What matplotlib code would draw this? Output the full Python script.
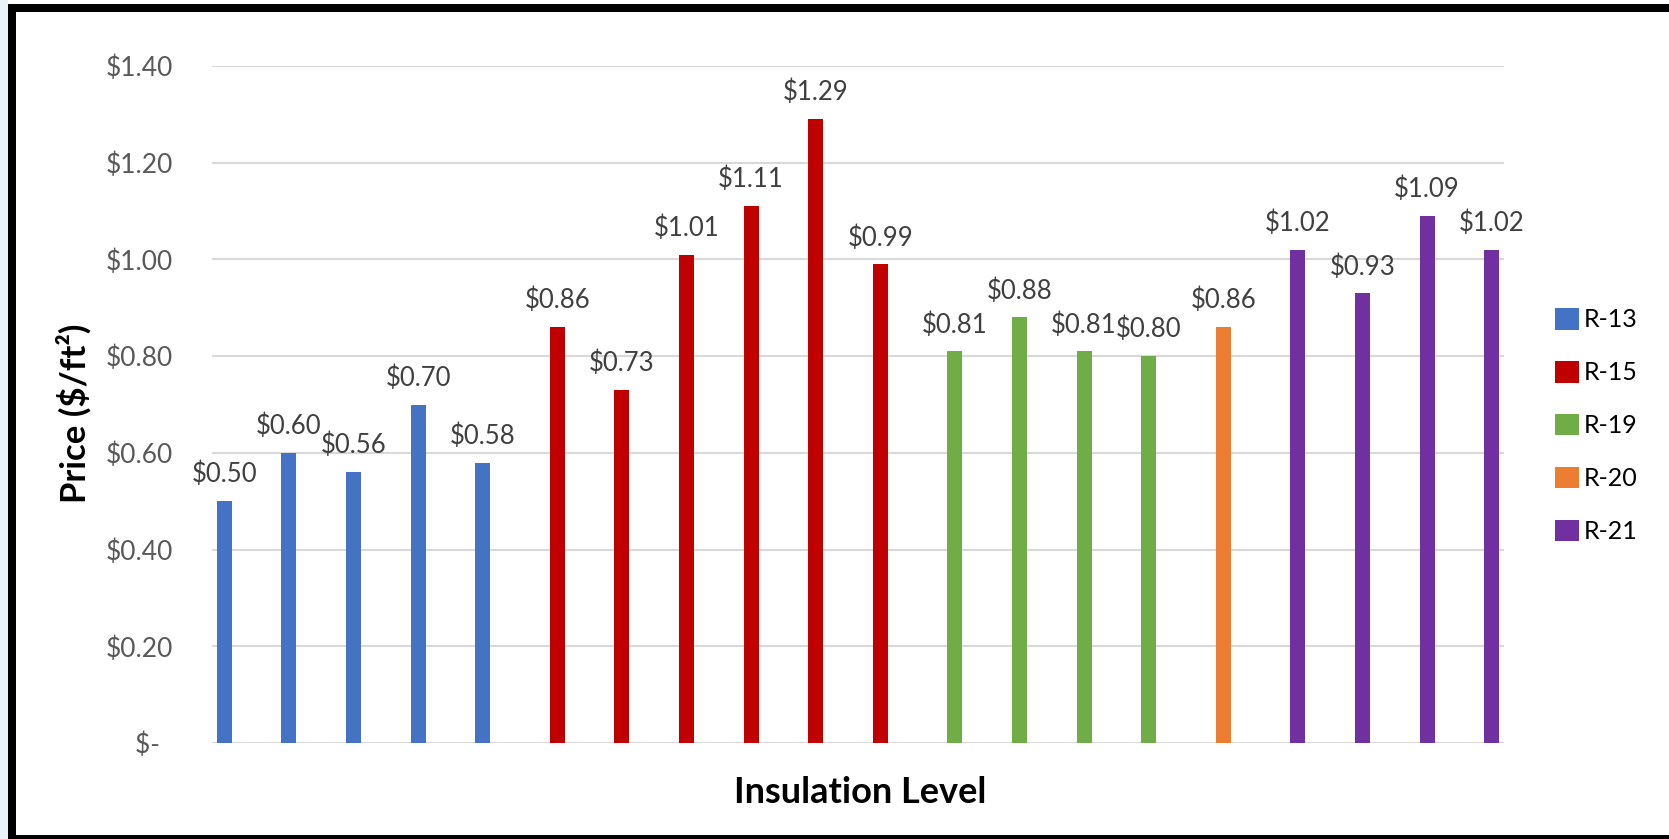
import matplotlib
matplotlib.use("Agg")
import matplotlib.pyplot as plt
from matplotlib.patches import Rectangle
from matplotlib.ticker import FuncFormatter

plt.rcParams['font.family'] = ['Lato', 'DejaVu Sans']

# price per square foot, one list per insulation level
series_names = ['R-13', 'R-15', 'R-19', 'R-20', 'R-21']
r13 = [0.50, 0.60, 0.56, 0.70, 0.58]
r15 = [0.86, 0.73, 1.01, 1.11, 1.29, 0.99]
r19 = [0.81, 0.88, 0.81, 0.80]
r20 = [0.86]
r21 = [1.02, 0.93, 1.09, 1.02]
series_vals = [r13, r15, r19, r20, r21]
colors = ['#4472C4', '#C00000', '#70AD47', '#ED7D31', '#7030A0']
yticks = [0, 0.2, 0.4, 0.6, 0.8, 1.0, 1.2, 1.4]

W, H = 1669, 839
fig = plt.figure(figsize=(W / 100, H / 100), dpi=100)
ax = fig.add_axes([212 / W, 1 - 743 / H, (1504 - 212) / W, (743 - 66) / H])

n_total = sum(len(v) for v in series_vals)
bw = 0.232
slot = 0.155

start = 0
for i, (name, vals, col) in enumerate(zip(series_names, series_vals, colors)):
    xs = [start + k + (i - 2) * slot for k in range(len(vals))]
    ax.bar(xs, vals, width=bw, color=col, label=name, zorder=3)
    for x, v in zip(xs, vals):
        ax.annotate('$%.2f' % v, (x, v), xytext=(0, 13.5), textcoords='offset points',
                    ha='center', va='baseline', fontsize=18.5, color='#404040')
    start += len(vals)

ax.set_xlim(-0.5, n_total - 0.5)
ax.set_ylim(0, 1.4)
ax.set_xticks([])
ax.set_yticks(yticks)
ax.yaxis.set_major_formatter(FuncFormatter(lambda v, p: '$-  ' if v == 0 else '$%.2f' % v))
ax.tick_params(axis='y', length=0, pad=28, labelsize=19, labelcolor='#595959')
ax.grid(axis='y', color='#D9D9D9', linewidth=1.5, zorder=0)
for s in ax.spines.values():
    s.set_visible(False)

fig.text(74 / W, 1 - 413 / H, 'Price ($/ft²)', rotation=90, ha='center', va='center',
         fontsize=25, fontweight='bold', color='black')
fig.text(860 / W, 1 - 803 / H, 'Insulation Level', ha='center', va='baseline',
         fontsize=26, fontweight='bold', color='black')

fig.legend(loc='center left', bbox_to_anchor=(1555 / W, 1 - 425.5 / H), frameon=False,
           fontsize=18, handlelength=0.95, handleheight=0.95, handletextpad=0.2,
           labelspacing=1.18, borderpad=0, borderaxespad=0)

# frame around the picture
fig.add_artist(Rectangle((0, 0), 8 / W, 1, transform=fig.transFigure, color='#EAF1F8', lw=0))
fig.add_artist(Rectangle((8 / W, 0), 8 / W, 1 - 4 / H, transform=fig.transFigure, color='black', lw=0))
fig.add_artist(Rectangle((8 / W, 1 - 12 / H), 1, 8 / H, transform=fig.transFigure, color='black', lw=0))
fig.add_artist(Rectangle((8 / W, 0), 1, 4 / H, transform=fig.transFigure, color='black', lw=0))

fig.savefig('out.png', dpi=100)
